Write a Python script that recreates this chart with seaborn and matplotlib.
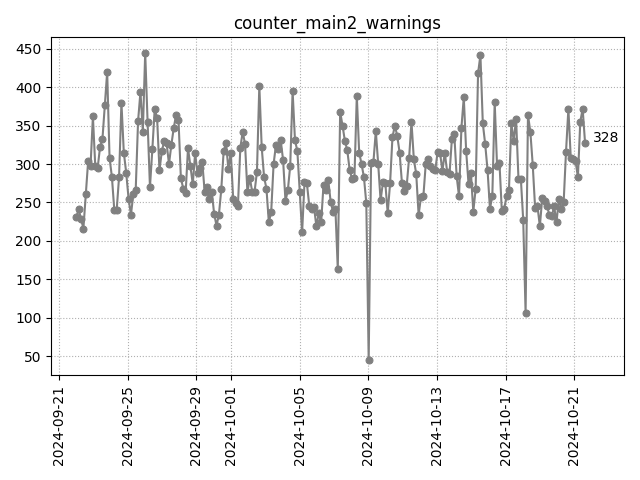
import matplotlib
matplotlib.use("Agg")
import matplotlib.pyplot as plt
import matplotlib.dates as mdates
import numpy as np
import pandas as pd
import seaborn as sns

title = "counter_main2_warnings"
start_time = "2024-09-22 00:00"
end_time = "2024-10-21 15:00"
values = [
    231, 241, 229, 216, 261, 304, 297, 362, 297, 295,
    322, 332, 377, 420, 308, 283, 240, 240, 283, 380,
    315, 289, 255, 234, 261, 266, 356, 394, 342, 445,
    355, 270, 319, 372, 360, 292, 317, 330, 327, 300,
    325, 347, 364, 358, 282, 268, 262, 321, 297, 274,
    314, 288, 295, 303, 264, 270, 254, 264, 235, 220,
    234, 267, 317, 327, 293, 315, 255, 249, 245, 321,
    342, 326, 263, 282, 264, 264, 290, 402, 322, 283,
    268, 224, 238, 300, 325, 320, 331, 305, 252, 266,
    298, 395, 331, 317, 264, 211, 276, 275, 246, 242,
    244, 219, 236, 224, 273, 266, 279, 251, 238, 242,
    163, 368, 350, 330, 318, 292, 281, 282, 389, 315,
    300, 283, 249, 45, 302, 303, 343, 300, 253, 276,
    275, 236, 275, 335, 350, 337, 315, 275, 265, 272,
    308, 355, 306, 287, 234, 257, 258, 300, 306, 297,
    294, 292, 316, 315, 291, 315, 290, 287, 333, 339,
    284, 258, 347, 387, 317, 274, 289, 238, 268, 418,
    442, 353, 326, 292, 242, 258, 381, 297, 302, 239,
    242, 258, 266, 353, 330, 359, 281, 281, 227, 106,
    364, 342, 299, 243, 245, 219, 256, 252, 245, 234,
    232, 245, 224, 255, 241, 250, 316, 372, 308, 306,
    304, 283, 355, 372, 328,
]
xlim_left = "2024-09-20 12:50"
xlim_right = "2024-10-23 21:40"

times = pd.date_range(start_time, end_time, periods=len(values))
df = pd.DataFrame({"time": times, "value": values})

fig, ax = plt.subplots(figsize=(6.4, 4.8), dpi=100)
sns.lineplot(data=df, x="time", y="value", ax=ax, color="gray",
             marker="o", markersize=5, markeredgecolor="gray",
             linewidth=1.5)
ax.set_title(title)
ax.set_xlabel("")
ax.set_ylabel("")
ax.grid(True, linestyle=":", color="#b0b0b0")
ax.set_xlim(pd.Timestamp(xlim_left), pd.Timestamp(xlim_right))
ax.xaxis.set_major_locator(mdates.DayLocator(bymonthday=range(1, 32, 4)))
ax.xaxis.set_major_formatter(mdates.DateFormatter("%Y-%m-%d"))
plt.setp(ax.get_xticklabels(), rotation=90)

last_t = df["time"].iloc[-1]
last_v = df["value"].iloc[-1]
ax.annotate(f"{last_v}", xy=(last_t, last_v), xytext=(6, 3),
            textcoords="offset points", ha="left", va="center", fontsize=10)

fig.tight_layout()
fig.savefig("out.png", dpi=100)
